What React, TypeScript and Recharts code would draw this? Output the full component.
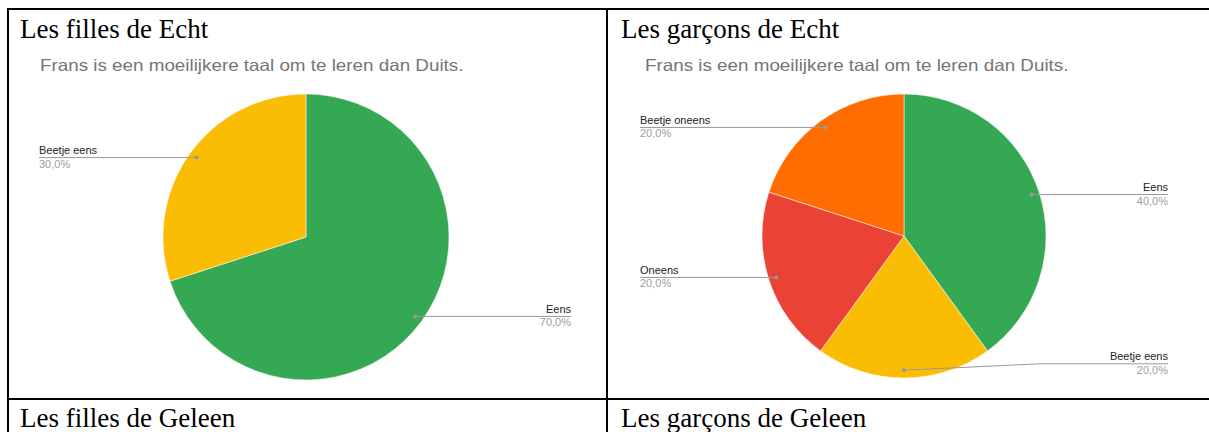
import React from 'react';
import { PieChart, Pie, Cell } from 'recharts';

// Frans is een moeilijkere taal om te leren dan Duits.
const question = 'Frans is een moeilijkere taal om te leren dan Duits.';

const fillesEcht = [
  { name: 'Eens', value: 7 },
  { name: 'Beetje eens', value: 3 },
];
const fillesColors = ['#34a853', '#fbbc04'];

const garconsEcht = [
  { name: 'Eens', value: 4 },
  { name: 'Beetje eens', value: 2 },
  { name: 'Oneens', value: 2 },
  { name: 'Beetje oneens', value: 2 },
];
const garconsColors = ['#34a853', '#fbbc04', '#ea4335', '#ff6d01'];

const titles = ['Les filles de Echt', 'Les garçons de Echt', 'Les filles de Geleen', 'Les garçons de Geleen'];

const RAD = Math.PI / 180;
const NO_MARGIN = { top: 0, right: 0, bottom: 0, left: 0 };

const makeLabel = (leftX: number, rightX: number) => (props: any) => {
  const { cx, cy, midAngle, outerRadius, percent, name } = props;
  const cos = Math.cos(-midAngle * RAD);
  const sin = Math.sin(-midAngle * RAD);
  const dx = cx + outerRadius * 0.945 * cos;
  const dy = cy + outerRadius * 0.945 * sin;
  const lineY = Math.min(dy, cy + outerRadius * 0.9);
  const right = cos > 0;
  const endX = right ? rightX : leftX;
  const pct = (percent * 100).toFixed(1).replace('.', ',') + '%';
  let d = `M${dx},${dy} L${endX},${lineY}`;
  if (lineY !== dy) {
    // label pushed up near the bottom edge: bend the leader line
    const bend = right ? endX - 128 : endX + 128;
    d = `M${dx},${dy} L${bend},${lineY} L${endX},${lineY}`;
  }
  return (
    <g>
      <path d={d} stroke="#999" strokeWidth={1} fill="none" />
      <circle cx={dx} cy={dy} r={2} fill="#999" />
      <text x={endX} y={lineY - 3.5} textAnchor={right ? 'end' : 'start'} fontSize={11} fill="#222"
        fontFamily="'Liberation Sans', Arial, sans-serif">{name}</text>
      <text x={endX} y={lineY + 10} textAnchor={right ? 'end' : 'start'} fontSize={11} fill="#9e9e9e"
        fontFamily="'Liberation Sans', Arial, sans-serif">{pct}</text>
    </g>
  );
};

const titleStyle = (left: number, top: number): React.CSSProperties => ({
  position: 'absolute',
  left,
  top,
  fontFamily: "'Liberation Serif', 'Times New Roman', serif",
  fontSize: 27,
  lineHeight: '27px',
  whiteSpace: 'nowrap',
  color: '#000',
});

const subStyle = (left: number): React.CSSProperties => ({
  position: 'absolute',
  left,
  top: 57,
  fontFamily: "'Liberation Sans', Arial, sans-serif",
  fontSize: 16.5,
  lineHeight: '16.5px',
  color: '#757575',
  whiteSpace: 'nowrap',
  transform: 'scaleX(1.14)',
  transformOrigin: 'left top',
});

const line = (left: number, top: number, width: number, height: number): React.CSSProperties => ({
  position: 'absolute',
  left,
  top,
  width,
  height,
  background: '#000',
});

export default function App() {
  return (
    <div style={{ position: 'absolute', left: 0, top: 0, width: 1209, height: 432, overflow: 'hidden', background: '#fff' }}>
      {/* table borders */}
      <div style={line(7, 8, 1202, 2)} />
      <div style={line(7, 8, 2, 424)} />
      <div style={line(606, 8, 2, 424)} />
      <div style={line(7, 398, 1202, 2)} />

      <div style={titleStyle(20, 16)}>{titles[0]}</div>
      <div style={titleStyle(621, 16)}>{titles[1]}</div>
      <div style={titleStyle(20, 405)}>{titles[2]}</div>
      <div style={titleStyle(621, 405)}>{titles[3]}</div>

      <div style={subStyle(40)}>{question}</div>
      <div style={subStyle(645)}>{question}</div>

      <div style={{ position: 'absolute', left: 0, top: 0 }}>
        <PieChart width={600} height={396} margin={NO_MARGIN}>
          <Pie
            data={fillesEcht}
            dataKey="value"
            nameKey="name"
            cx={306}
            cy={237}
            outerRadius={143}
            startAngle={90}
            endAngle={-270}
            stroke="#fff"
            strokeWidth={0.5}
            labelLine={false}
            label={makeLabel(39, 571)}
            isAnimationActive={false}
          >
            {fillesEcht.map((d, i) => (
              <Cell key={d.name} fill={fillesColors[i]} />
            ))}
          </Pie>
        </PieChart>
      </div>

      <div style={{ position: 'absolute', left: 607, top: 0 }}>
        <PieChart width={600} height={396} margin={NO_MARGIN}>
          <Pie
            data={garconsEcht}
            dataKey="value"
            nameKey="name"
            cx={297}
            cy={236}
            outerRadius={142}
            startAngle={90}
            endAngle={-270}
            stroke="#fff"
            strokeWidth={0.5}
            labelLine={false}
            label={makeLabel(33, 561)}
            isAnimationActive={false}
          >
            {garconsEcht.map((d, i) => (
              <Cell key={d.name} fill={garconsColors[i]} />
            ))}
          </Pie>
        </PieChart>
      </div>
    </div>
  );
}
